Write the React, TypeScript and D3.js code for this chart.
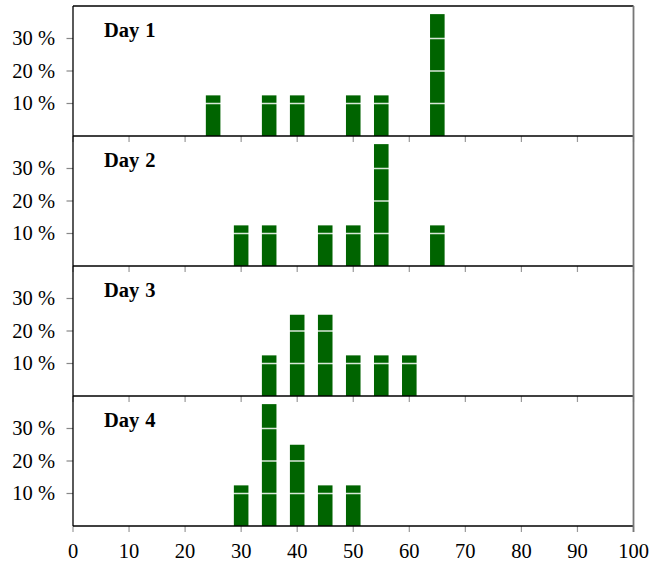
import React from "react";
import * as d3 from "d3";

const days = ["Day 1", "Day 2", "Day 3", "Day 4"];
const binCenters = [25, 30, 35, 40, 45, 50, 55, 60, 65];
// percentages per bin for each day (order matches binCenters)
const day1Values = [12.5, 0, 12.5, 12.5, 0, 12.5, 12.5, 0, 37.5];
const day2Values = [0, 12.5, 12.5, 0, 12.5, 12.5, 37.5, 0, 12.5];
const day3Values = [0, 0, 12.5, 25, 25, 12.5, 12.5, 12.5, 0];
const day4Values = [0, 12.5, 37.5, 25, 12.5, 12.5, 0, 0, 0];
const allValues = [day1Values, day2Values, day3Values, day4Values];
const xTicks = [0, 10, 20, 30, 40, 50, 60, 70, 80, 90, 100];
const yTicks = [10, 20, 30];
const yTickLabels = ["10 %", "20 %", "30 %"];

const W = 663;
const H = 566;
const left = 73;
const right = 633.5;
const top = 6;
const panelH = 130;
const barHalf = 1.3;
const green = "#006400";
const font = "'Liberation Serif', 'Times New Roman', serif";

export default function App() {
  const x = d3.scaleLinear().domain([0, 100]).range([left, right]);
  const bottomAll = top + panelH * days.length;
  return (
    <svg width={W} height={H} style={{ position: "absolute", left: 0, top: 0 }}>
      <rect x={0} y={0} width={W} height={H} fill="#fff" />
      {days.map((day, i) => {
        const y0 = top + panelH * i;
        const y = d3.scaleLinear().domain([0, 40]).range([y0 + panelH, y0]);
        const vals = allValues[i];
        const [w1, w2] = day.split(" ");
        return (
          <g key={day}>
            {binCenters.map((c, j) =>
              vals[j] > 0 ? (
                <rect
                  key={c}
                  x={x(c - barHalf)}
                  y={y(vals[j])}
                  width={x(c + barHalf) - x(c - barHalf)}
                  height={y(0) - y(vals[j])}
                  fill={green}
                />
              ) : null
            )}
            {yTicks.map((t) => (
              <line
                key={"g" + t}
                x1={left}
                x2={right}
                y1={y(t)}
                y2={y(t)}
                stroke="#fff"
                strokeOpacity={0.85}
                strokeWidth={1.4}
              />
            ))}
            {yTicks.map((t, k) => (
              <g key={"yt" + t}>
                <line x1={left - 6.5} x2={left} y1={y(t)} y2={y(t)} stroke="#888" strokeWidth={1.2} />
                <text
                  x={55}
                  y={y(t) + 6.5}
                  textAnchor="end"
                  fontFamily={font}
                  fontSize={20.5}
                  fill="#000"
                >
                  {yTickLabels[k]}
                </text>
              </g>
            ))}
            {xTicks.map((t) => (
              <line
                key={"xt" + t}
                x1={x(t)}
                x2={x(t)}
                y1={y(0)}
                y2={y(0) + 6}
                stroke="#999"
                strokeWidth={1.2}
              />
            ))}
            <text x={104} y={y0 + 30.5} fontFamily={font} fontWeight="bold" fontSize={20.5} fill="#000">
              {w1}
              <tspan dx={6}>{w2}</tspan>
            </text>
          </g>
        );
      })}
      {d3.range(days.length + 1).map((i) => (
        <line
          key={"h" + i}
          x1={left}
          x2={right}
          y1={top + panelH * i}
          y2={top + panelH * i}
          stroke="#000"
          strokeWidth={1.3}
        />
      ))}
      <line x1={left} x2={left} y1={top} y2={bottomAll} stroke="#000" strokeWidth={1.3} />
      <line x1={right} x2={right} y1={top} y2={bottomAll + 6} stroke="#777" strokeWidth={1.8} />
      {xTicks.map((t) => (
        <text
          key={"xl" + t}
          x={x(t)}
          y={558}
          textAnchor="middle"
          fontFamily={font}
          fontSize={20.5}
          fill="#000"
        >
          {t}
        </text>
      ))}
    </svg>
  );
}
